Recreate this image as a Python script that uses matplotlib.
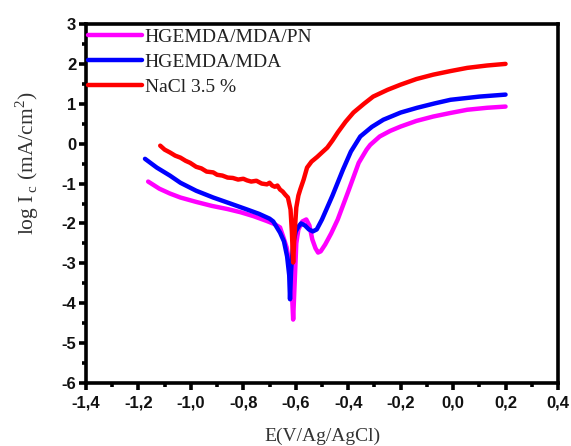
import matplotlib
matplotlib.use("Agg")
import matplotlib.pyplot as plt
from matplotlib.ticker import MultipleLocator, FuncFormatter

# ---- data ----
pn_E = [-1.163, -1.12, -1.08, -1.04, -0.98, -0.92, -0.86, -0.81, -0.76, -0.71, -0.68, -0.66, -0.648,
        -0.635, -0.622, -0.615, -0.61, -0.605, -0.598, -0.59, -0.575, -0.56, -0.548, -0.537, -0.525,
        -0.515, -0.505, -0.488, -0.465, -0.44, -0.40, -0.36, -0.33, -0.316, -0.28, -0.24, -0.20,
        -0.14, -0.076, -0.01, 0.054, 0.13, 0.20]
pn_I = [-0.95, -1.13, -1.25, -1.35, -1.46, -1.56, -1.64, -1.72, -1.82, -1.94, -2.02, -2.1, -2.33,
        -2.6, -3.08, -3.7, -4.41, -3.6, -2.5, -2.15, -1.95, -1.9, -2.05, -2.4, -2.62,
        -2.73, -2.7, -2.53, -2.25, -1.9, -1.2, -0.48, -0.15, -0.03, 0.18, 0.32, 0.43,
        0.57, 0.68, 0.77, 0.85, 0.9, 0.93]

mda_E = [-1.175, -1.13, -1.08, -1.04, -0.98, -0.915, -0.85, -0.786, -0.74, -0.70, -0.686, -0.66,
         -0.645, -0.633, -0.625, -0.622, -0.618, -0.61, -0.60, -0.59, -0.58, -0.565, -0.55, -0.535,
         -0.52, -0.50, -0.46, -0.42, -0.39, -0.354, -0.31, -0.266, -0.2, -0.137, -0.07, -0.01,
         0.1, 0.20]
mda_I = [-0.38, -0.6, -0.8, -0.98, -1.18, -1.35, -1.5, -1.65, -1.76, -1.88, -1.95, -2.23,
         -2.45, -2.83, -3.3, -3.9, -3.2, -2.5, -2.2, -2.08, -2.0, -2.05, -2.15, -2.2,
         -2.15, -1.9, -1.3, -0.65, -0.2, 0.18, 0.42, 0.6, 0.78, 0.9, 1.01, 1.1,
         1.18, 1.23]

nacl_E = [-1.117, -1.10, -1.08, -1.06, -1.04, -1.02, -1.003, -0.98, -0.96, -0.94, -0.915, -0.90,
          -0.88, -0.86, -0.84, -0.82, -0.80, -0.786, -0.77, -0.75, -0.73, -0.71, -0.70, -0.69,
          -0.68, -0.67, -0.66, -0.65, -0.64, -0.63, -0.62, -0.615, -0.61, -0.605, -0.598, -0.59,
          -0.583, -0.57, -0.557, -0.54, -0.518, -0.50, -0.48, -0.46, -0.44, -0.41, -0.38, -0.34,
          -0.305, -0.25, -0.2, -0.14, -0.076, -0.01, 0.054, 0.13, 0.20]
nacl_I = [-0.05, -0.15, -0.22, -0.3, -0.35, -0.43, -0.48, -0.58, -0.62, -0.7, -0.72, -0.78,
          -0.8, -0.85, -0.86, -0.9, -0.88, -0.92, -0.95, -0.93, -1.0, -1.02, -0.98, -1.05,
          -1.08, -1.05, -1.15, -1.2, -1.28, -1.35, -1.65, -2.2, -2.98, -2.3, -1.6, -1.3,
          -1.15, -0.9, -0.6, -0.45, -0.33, -0.22, -0.1, 0.08, 0.28, 0.55, 0.78, 1.0,
          1.18, 1.35, 1.48, 1.62, 1.73, 1.82, 1.9, 1.96, 2.0]

series = [
    ("HGEMDA/MDA/PN", pn_E, pn_I, "#ff00ff"),
    ("HGEMDA/MDA", mda_E, mda_I, "#0000ff"),
    ("NaCl 3.5 %", nacl_E, nacl_I, "#ff0000"),
]

W, H = 571, 446
fig = plt.figure(figsize=(W / 100, H / 100), dpi=100)
ax = fig.add_axes([86 / W, 63 / H, 472 / W, 359 / H])

for label, E, I, c in series:
    ax.plot(E, I, color=c, lw=3.2, label=label, solid_capstyle="round", solid_joinstyle="round")

ax.set_xlim(-1.4, 0.4)
ax.set_ylim(-6, 3)
ax.xaxis.set_major_locator(MultipleLocator(0.2))
ax.xaxis.set_minor_locator(MultipleLocator(0.1))
ax.yaxis.set_major_locator(MultipleLocator(1))
ax.yaxis.set_minor_locator(MultipleLocator(0.5))
ax.xaxis.set_major_formatter(FuncFormatter(lambda v, p: f"{v:.1f}".replace(".", ",").replace("-0,0", "0,0")))
ax.yaxis.set_major_formatter(FuncFormatter(lambda v, p: f"{int(round(v))}"))

for s in ax.spines.values():
    s.set_linewidth(2.6)
ax.tick_params(which="major", direction="out", length=5, width=2.6, labelsize=12)
ax.tick_params(axis="x", which="major", pad=4)
ax.tick_params(axis="y", which="major", pad=2)
ax.tick_params(which="minor", direction="out", length=3, width=2.6)
for lab in ax.get_xticklabels() + ax.get_yticklabels():
    lab.set_fontfamily("Liberation Sans")
    lab.set_fontweight("bold")
    lab.set_color("#111111")

fig.text(322 / W, 1 - 436 / H, "E(V/Ag/AgCl)", fontfamily="Liberation Serif", fontsize=14,
         color="#333333", ha="center", va="center")
fig.text(27 / W, 1 - 163 / H, r"log I$_{\,\mathregular{c}}$ (mA/cm$^{\mathregular{2}}$)",
         fontfamily="Liberation Serif", fontsize=15.5, color="#333333",
         ha="center", va="center", rotation=90)

leg = ax.legend(loc="upper left", bbox_to_anchor=(88 / W, 1 - 28 / H), bbox_transform=fig.transFigure,
                frameon=False, prop={"family": "Liberation Serif", "size": 14}, handlelength=2.8,
                handletextpad=0.12, labelspacing=0.38, borderaxespad=0, borderpad=0)
for t in leg.get_texts():
    t.set_color("#222222")

fig.savefig("out.png", dpi=100)
